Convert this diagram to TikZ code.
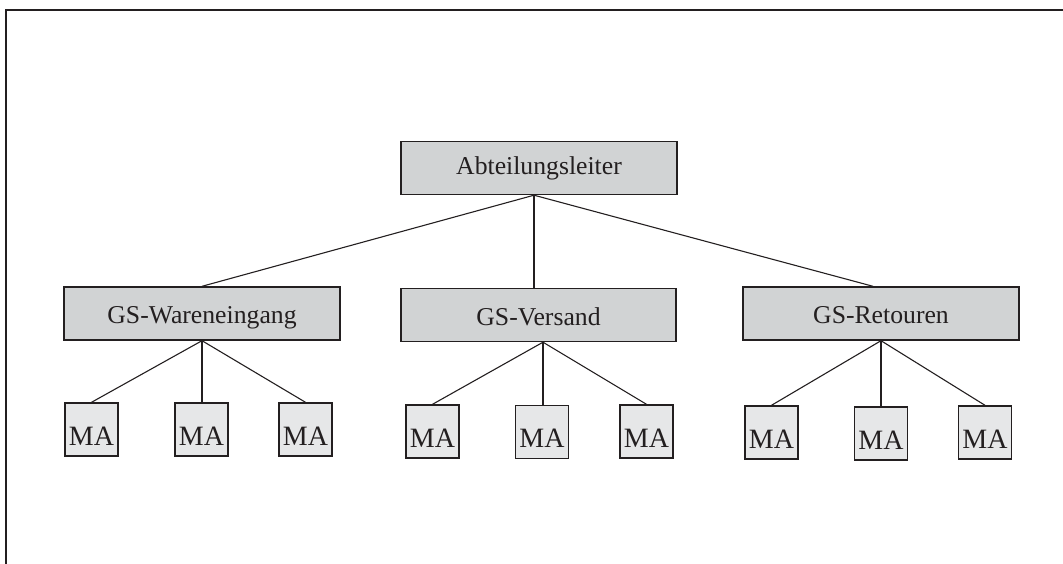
\documentclass[tikz,border=0pt]{standalone}
\usepackage{fontspec}
\setmainfont{Liberation Serif}
\definecolor{boxdark}{HTML}{D1D3D4}
\definecolor{boxlight}{HTML}{E6E7E8}
\definecolor{ink}{HTML}{231F20}
\begin{document}
\begin{tikzpicture}[x=1pt,y=-1pt,
  bigbox/.style={draw=ink,fill=boxdark,line width=1.4pt,inner sep=0pt,
    minimum width=276pt,minimum height=53pt,text height=20pt,text depth=0pt,
    font=\fontsize{25.7}{30}\selectfont,text=ink},
  mabox/.style={draw=ink,fill=boxlight,line width=1.4pt,inner sep=0pt,
    minimum width=53pt,minimum height=53pt,text height=31pt,text depth=0pt,
    font=\fontsize{28}{32}\selectfont,text=ink},
  conn/.style={draw=ink,line width=1.1pt},
  frameline/.style={draw=ink,line width=2pt}]
\useasboundingbox (0,0) rectangle (1063,564);
\draw[frameline] (6,564) -- (6,10) -- (1063,10);

\node[bigbox,text height=14pt] (abt) at (539,168) {Abteilungsleiter};
\node[bigbox] (gs1) at (202,313.5) {GS-Wareneingang};
\node[bigbox,minimum width=275pt] (gs2) at (538.5,315) {GS-Versand};
\node[bigbox] (gs3) at (881,313.5) {GS-Retouren};

\node[mabox] (m11) at (91.5,429.5) {MA};
\node[mabox] (m12) at (201.5,429.5) {MA};
\node[mabox] (m13) at (305.5,429.5) {MA};
\node[mabox] (m21) at (432.5,431.5) {MA};
\node[mabox] (m22) at (542,432) {MA};
\node[mabox] (m23) at (646.5,431.5) {MA};
\node[mabox] (m31) at (771.5,432.5) {MA};
\node[mabox] (m32) at (881,433.5) {MA};
\node[mabox] (m33) at (985,432.5) {MA};

\coordinate (aj) at ([xshift=-5pt]abt.south);
\coordinate (g1j) at (gs1.south);
\coordinate (g2j) at ([xshift=4.5pt]gs2.south);
\coordinate (g3j) at (gs3.south);

\draw[conn] (aj) -- (gs1.north);
\draw[conn] (aj) -- (aj |- gs2.north);
\draw[conn] (aj) -- ([xshift=-8pt]gs3.north);

\draw[conn] (g1j) -- (m11.north);
\draw[conn] (g1j) -- (g1j |- m12.north);
\draw[conn] (g1j) -- (m13.north);

\draw[conn] (g2j) -- (m21.north);
\draw[conn] (g2j) -- (g2j |- m22.north);
\draw[conn] (g2j) -- (m23.north);

\draw[conn] (g3j) -- (m31.north);
\draw[conn] (g3j) -- (g3j |- m32.north);
\draw[conn] (g3j) -- (m33.north);
\end{tikzpicture}
\end{document}
